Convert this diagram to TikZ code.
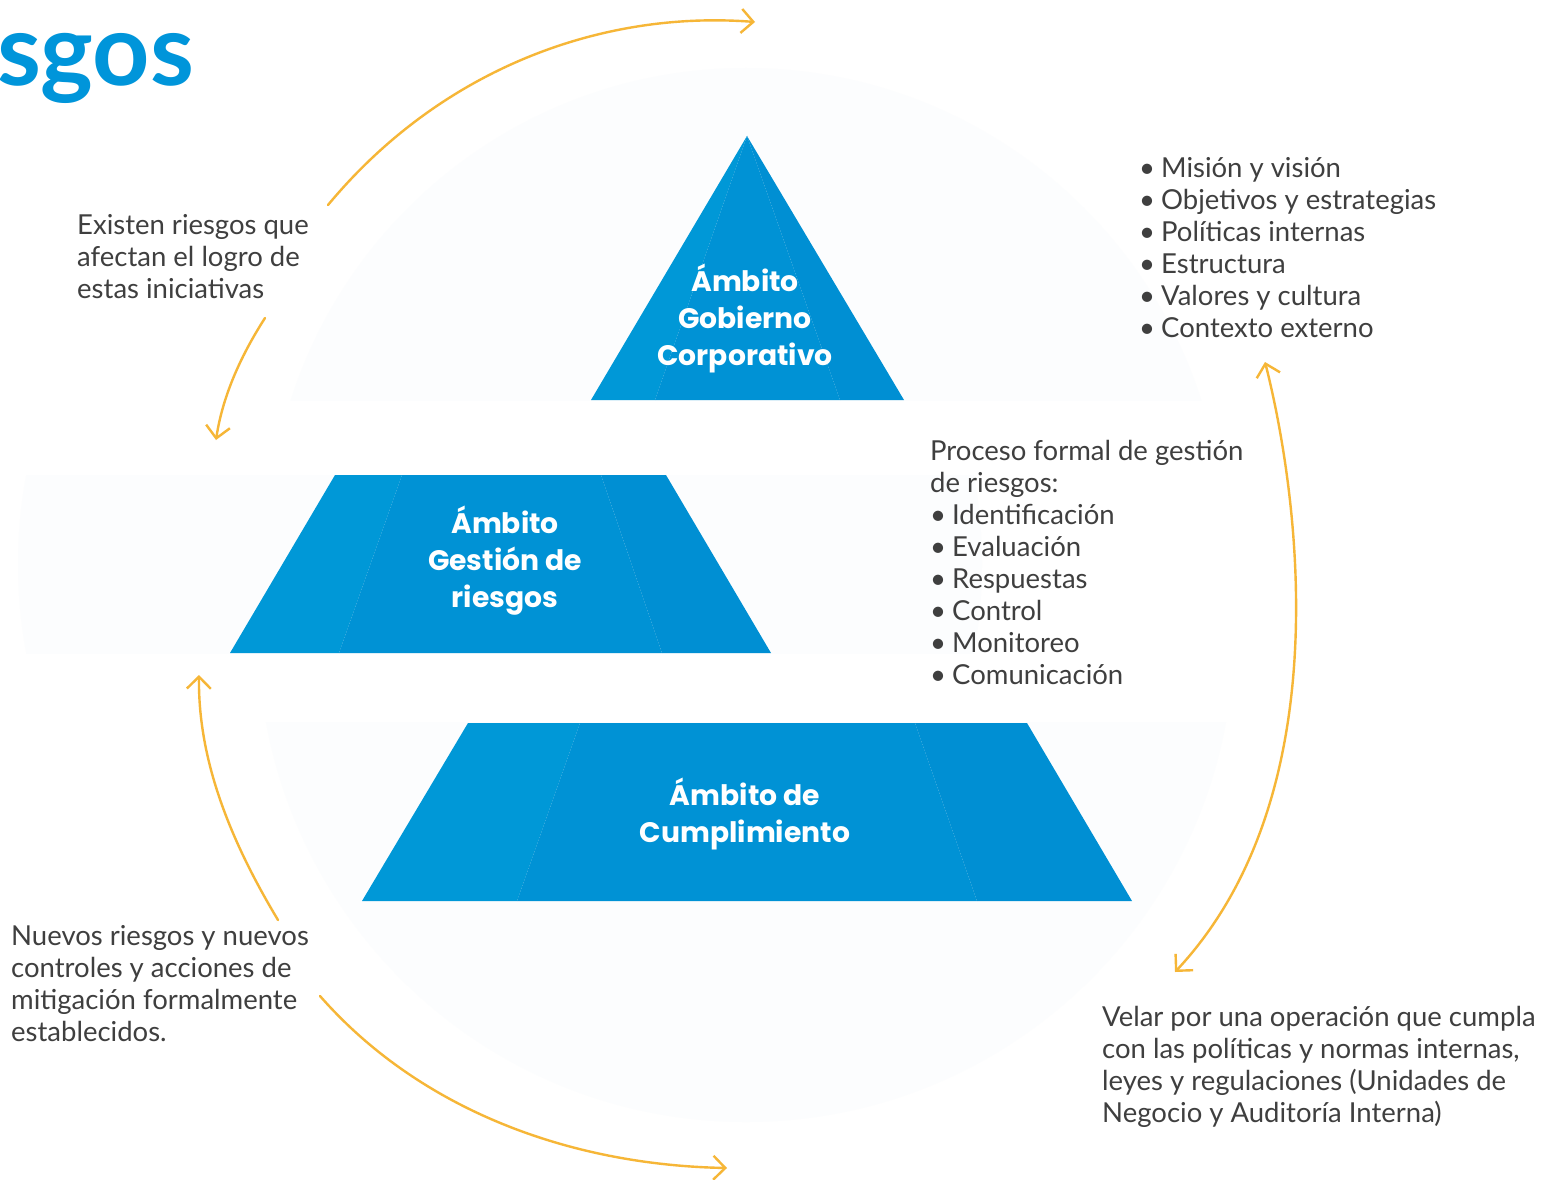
\documentclass[tikz,border=0pt]{standalone}
\usepackage{fontspec}
\setmainfont{Lato}
\newfontfamily\lblfont{Poppins}
\usetikzlibrary{arrows.meta}
\definecolor{txt}{HTML}{3F3F3F}
\definecolor{ttl}{HTML}{0095DA}
\definecolor{arr}{HTML}{F6B637}
\definecolor{bandbg}{HTML}{FCFDFE}
\definecolor{blueA}{HTML}{0098D7}
\definecolor{blueB}{HTML}{0092D5}
\definecolor{blueC}{HTML}{008FD3}
\newcommand{\bul}{•\hspace{6pt}}
\tikzset{
  bodytext/.style={anchor=north west, inner sep=0pt, align=left, text=txt,
    font=\fontsize{27.5}{32}\selectfont},
  lbltext/.style={inner sep=0pt, align=center, text=white,
    font=\lblfont\bfseries\fontsize{28.2}{37}\selectfont},
  arrowline/.style={draw=arr, line width=2.4pt, line cap=round,
    -{Straight Barb[length=12pt,width=24pt]}},
  twoway/.style={draw=arr, line width=2.4pt, line cap=round,
    {Straight Barb[length=12pt,width=24pt]}-{Straight Barb[length=12pt,width=24pt]}},
}
\begin{document}
\begin{tikzpicture}[x=1pt,y=-1pt]
\useasboundingbox (0,0) rectangle (1544,1180);
\fill[white] (0,0) rectangle (1544,1180);
% faint background bands
\begin{scope}
  \clip (0,68) rectangle (1544,400);
  \fill[bandbg] (746,546) circle (478pt);
\end{scope}
\begin{scope}
  \clip (0,475) rectangle (1544,653);
  \fill[bandbg] (500,564) circle (482pt);
\end{scope}
\begin{scope}
  \clip (0,722) rectangle (1544,1122);
  \fill[bandbg] (746,634) circle (488pt);
\end{scope}
% title
\node[anchor=base west, inner sep=0pt, text=ttl, font=\bfseries\fontsize{100}{104}\selectfont] (title) at (-3,86) {sgos};
% top triangle
\fill[blueA] (591,400) -- (747,136) -- (655,400) -- cycle;
\fill[blueB] (655,400) -- (747,136) -- (840,400) -- cycle;
\fill[blueC] (840,400) -- (747,136) -- (904,400) -- cycle;
\node[lbltext] (gob) at (745,318) {Ámbito\\Gobierno\\Corporativo};
% middle trapezoid
\fill[blueA] (230,653) -- (335,475) -- (402,475) -- (339,653) -- cycle;
\fill[blueB] (339,653) -- (402,475) -- (601,475) -- (662,653) -- cycle;
\fill[blueC] (662,653) -- (601,475) -- (666,475) -- (771,653) -- cycle;
\node[lbltext] (ges) at (505,561) {Ámbito\\Gestión de\\riesgos};
% bottom trapezoid
\fill[blueA] (362,901) -- (468,723) -- (580,723) -- (517,901) -- cycle;
\fill[blueB] (517,901) -- (580,723) -- (915,723) -- (977,901) -- cycle;
\fill[blueC] (977,901) -- (915,723) -- (1027,723) -- (1132,901) -- cycle;
\node[lbltext] (cum) at (745,814) {Ámbito de\\Cumplimiento};
% texts
\node[bodytext] (t1) at (77,211.6) {\strut Existen riesgos que\\afectan el logro de\\estas iniciativas};
\node[bodytext] (t2) at (1139,154.6) {\strut \bul Misión y visión\\\bul Objetivos y estrategias\\\bul Políticas internas\\\bul Estructura\\\bul Valores y cultura\\\bul Contexto externo};
\node[bodytext] (t3) at (930,437.6) {\strut Proceso formal de gestión\\de riesgos:\\\bul Identificación\\\bul Evaluación\\\bul Respuestas\\\bul Control\\\bul Monitoreo\\\bul Comunicación};
\node[bodytext] (t4) at (11,922.6) {\strut Nuevos riesgos y nuevos\\controles y acciones de\\mitigación formalmente\\establecidos.};
\node[bodytext] (t5) at (1102,1003.6) {\strut Velar por una operación que cumpla\\con las políticas y normas internas,\\leyes y regulaciones (Unidades de\\Negocio y Auditoría Interna)};
% arrows
\coordinate (a1s) at (328,205);
\coordinate (a1e) at (755,22);
\coordinate (a2s) at (265,318);
\coordinate (a2e) at (216,440);
\coordinate (a3s) at (1265,362);
\coordinate (a3e) at (1175,972);
\coordinate (a4s) at (278,920);
\coordinate (a4e) at (199,675);
\coordinate (a5s) at (320,996);
\coordinate (a5e) at (727,1168);
\draw[arrowline] (a1s) .. controls (440,70) and (600,10) .. (a1e);
\draw[arrowline] (a2s) .. controls (238,360) and (222,400) .. (a2e);
\draw[twoway] (a3s) .. controls (1295,480) and (1345,790) .. (a3e);
\draw[arrowline] (a4s) .. controls (230,840) and (198,760) .. (a4e);
\draw[arrowline] (a5s) .. controls (420,1110) and (570,1165) .. (a5e);
\end{tikzpicture}
\end{document}
